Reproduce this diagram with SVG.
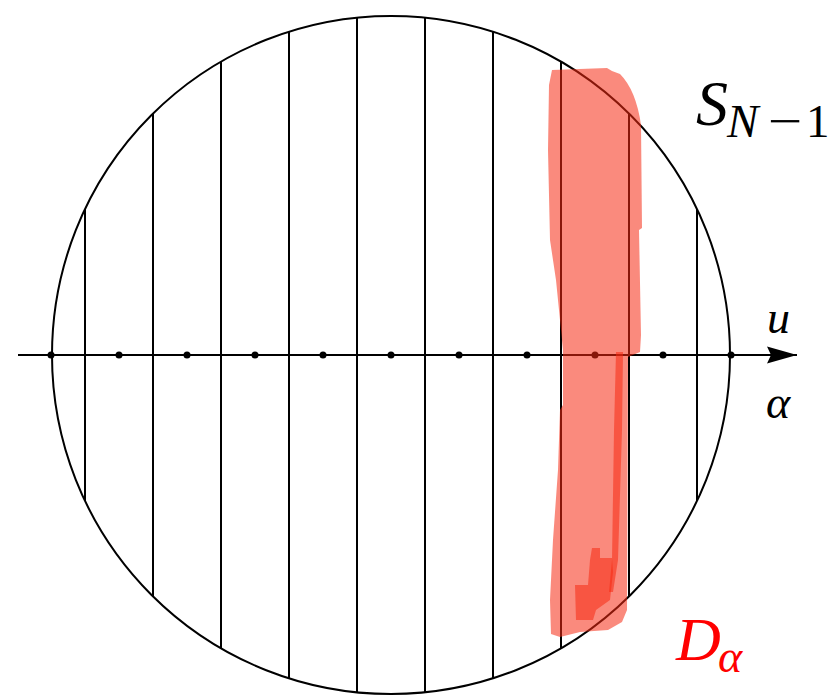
<svg xmlns="http://www.w3.org/2000/svg" width="832" height="695" viewBox="0 0 832 695">
<style>
.ln{stroke:#000;stroke-width:2;fill:none}
.dot{fill:#000}
.m{font-family:"Liberation Serif","DejaVu Serif",serif;font-style:italic;fill:#000}
.up{font-style:normal}
.hl{fill:#f52a12;fill-opacity:0.55}
</style>
<defs>
<clipPath id="cc"><circle cx="391" cy="355" r="339"/></clipPath>
<marker id="arr" markerWidth="32" markerHeight="20" refX="30" refY="9" orient="auto" markerUnits="userSpaceOnUse">
<path d="M0,0.5 L30,9 L0,17.5 L4,9 Z" fill="#000"/>
</marker>
</defs>
<rect width="832" height="695" fill="#fff"/>
<g id="sphere">
<circle cx="391" cy="355" r="339" class="ln"/>
</g>
<g id="slices" clip-path="url(#cc)">
<path class="ln" d="M85,0V695M153,0V695M221,0V695M289,0V695M357,0V695M425,0V695M493,0V695M561,0V695M629,0V695M697,0V695"/>
</g>
<g id="connectors">
<line x1="18" y1="355" x2="797" y2="355" class="ln" marker-end="url(#arr)"/>
</g>
<g id="points">
<circle cx="51" cy="355" r="3.5" class="dot"/>
<circle cx="119" cy="355" r="3.5" class="dot"/>
<circle cx="187" cy="355" r="3.5" class="dot"/>
<circle cx="255" cy="355" r="3.5" class="dot"/>
<circle cx="323" cy="355" r="3.5" class="dot"/>
<circle cx="391" cy="355" r="3.5" class="dot"/>
<circle cx="459" cy="355" r="3.5" class="dot"/>
<circle cx="527" cy="355" r="3.5" class="dot"/>
<circle cx="595" cy="355" r="3.5" class="dot"/>
<circle cx="663" cy="355" r="3.5" class="dot"/>
<circle cx="731" cy="355" r="3.5" class="dot"/>
</g>
<g id="region-D">
<path class="hl" d="M552,70 L607,68 L612,71 L620,74 Q636,90 641,125 L642,228 L639,230 L641,335 L640,352 L628,357 L627,610 L622,622 L608,630 L580,632 L560,637 L551,634 L550,600 L553,540 L558,470 L560,410 L563,405 L563,350 L560,320 L556,280 L550,240 L548,150 L549,85 Z"/>
<path class="hl" d="M616,352 L623,352 L622,430 L618,560 L613,592 L609,592 L612,560 L614,430 Z"/>
<path class="hl" d="M592,548 L600,548 L600,558 L612,558 L613,572 L610,600 L596,610 L593,620 L576,620 L575,585 L588,585 L590,560 Z"/>
</g>
<g id="labels">
<text class="m" x="696" y="125" font-size="64">S</text>
<text class="m" x="727" y="137" font-size="47">N</text>
<text class="m up" transform="translate(768,137) scale(1.3,1)" font-size="47">−</text>
<text class="m up" x="806" y="137" font-size="47">1</text>
<text class="m" x="767" y="333" font-size="46">u</text>
<text class="m" x="766" y="418" font-size="46">α</text>
<text class="m" x="676" y="660" font-size="62" style="fill:#ff0000">D</text>
<text class="m" x="718" y="672" font-size="46" style="fill:#ff0000">α</text>
</g>
</svg>
